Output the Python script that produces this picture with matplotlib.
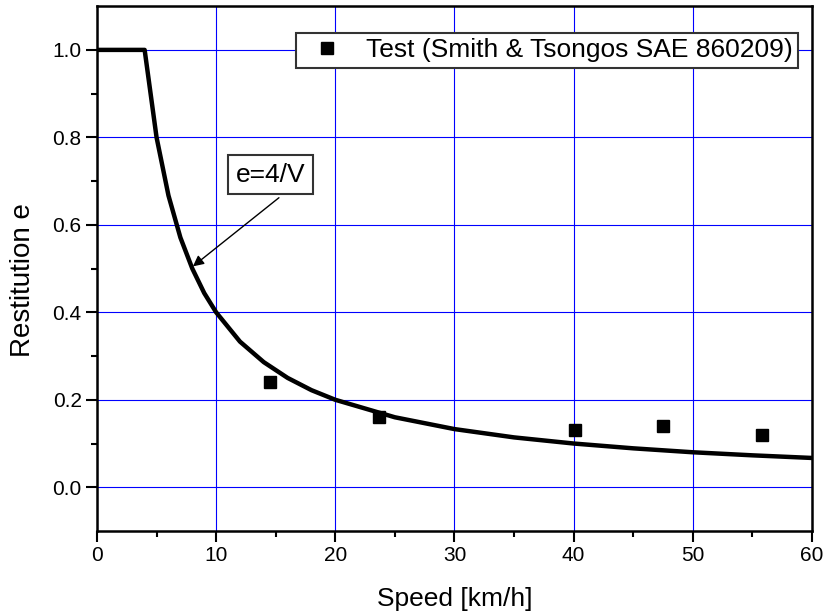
import numpy as np
import matplotlib
matplotlib.use("Agg")
import matplotlib.pyplot as plt

plt.rcParams['font.family'] = ['Liberation Sans', 'DejaVu Sans']

# model curve e=4/V
speed_model = [0, 4, 5, 6, 7, 8, 9, 10, 12, 14, 16, 18, 20, 25, 30, 35, 40, 45, 50, 55, 60]
e_model = [1.0, 1.0, 0.8, 0.667, 0.571, 0.5, 0.444, 0.4, 0.333, 0.286, 0.25,
           0.222, 0.2, 0.16, 0.133, 0.114, 0.1, 0.089, 0.08, 0.073, 0.067]

# tests (Smith & Tsongos SAE 860209)
speed_test = [14.5, 23.7, 40.1, 47.5, 55.8]
e_test = [0.24, 0.16, 0.13, 0.14, 0.12]

fig = plt.figure(figsize=(8.26, 6.16), dpi=100)
ax = fig.add_axes([0.1174, 0.138, 0.8656, 0.852])

ax.plot(speed_model, e_model, color='black', lw=3.2, zorder=3)
ax.plot(speed_test, e_test, 's', color='black', ms=8.5, zorder=4,
        label='Test (Smith & Tsongos SAE 860209)')

ax.set_xlim(0, 60)
ax.set_ylim(-0.1, 1.1)
ax.set_xticks(np.arange(0, 61, 10))
ax.set_xticks(np.arange(5, 60, 10), minor=True)
ax.set_yticks(np.arange(0, 1.01, 0.2))
ax.set_yticks(np.arange(0.1, 1.0, 0.2), minor=True)
ax.grid(True, which='major', color='#0000ff', lw=0.8)
ax.set_axisbelow(True)

for s in ax.spines.values():
    s.set_linewidth(1.8)
ax.tick_params(which='major', direction='out', length=8, width=1.5, labelsize=15, pad=3)
ax.tick_params(which='minor', direction='out', length=4.5, width=1.5)
ax.yaxis.set_major_formatter(matplotlib.ticker.FormatStrFormatter('%.1f'))

ax.set_xlabel('Speed [km/h]', fontsize=19, labelpad=16)
ax.set_ylabel('Restitution e', fontsize=20, labelpad=8)
ax.yaxis.set_label_coords(-0.085, 0.478)

leg = ax.legend(loc='upper right', bbox_to_anchor=(0.9805, 0.9485), fontsize=19,
                fancybox=False, edgecolor='#333333', framealpha=1,
                borderpad=0.2, handletextpad=0.47, borderaxespad=0,
                handlelength=2.0)
leg.get_frame().set_linewidth(1.5)

ax.text(14.55, 0.715, 'e=4/V', fontsize=19, ha='center', va='center',
        bbox=dict(boxstyle='square,pad=0.3', fc='white', ec='#333333', lw=1.5))
ax.annotate('', xy=(8.05, 0.505), xytext=(15.27, 0.662),
            arrowprops=dict(arrowstyle='-|>', color='black', lw=1,
                            shrinkA=0, shrinkB=0, mutation_scale=16))

fig.savefig('out.png', dpi=100)
